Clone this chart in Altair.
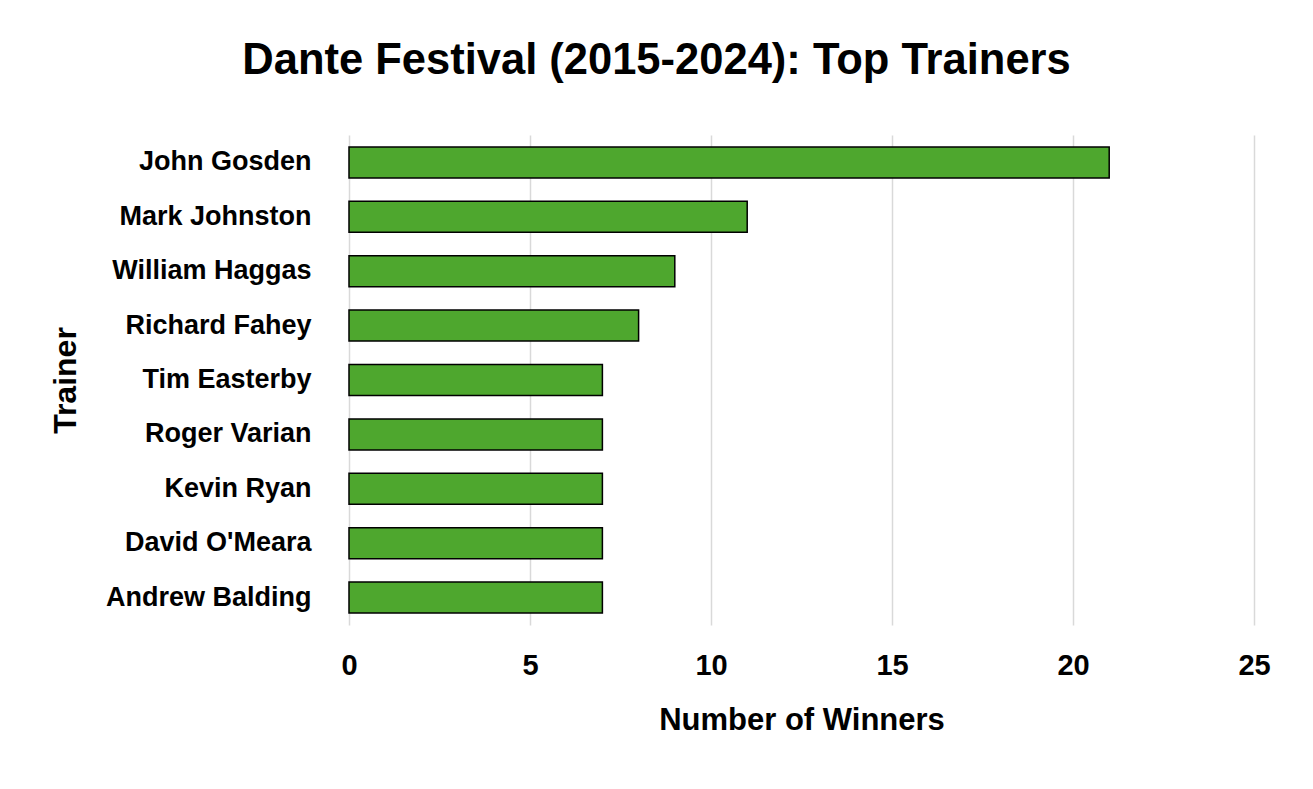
import altair as alt
import pandas as pd

trainers = ["John Gosden", "Mark Johnston", "William Haggas", "Richard Fahey",
            "Tim Easterby", "Roger Varian", "Kevin Ryan", "David O'Meara", "Andrew Balding"]
winners = [21, 11, 9, 8, 7, 7, 7, 7, 7]

df = pd.DataFrame({"Trainer": trainers, "Winners": winners})

FONT = "Liberation Sans"

chart = alt.Chart(df).mark_bar(
    color="#4EA72E", stroke="#000000", strokeWidth=1.5
).encode(
    x=alt.X("Winners:Q", title="Number of Winners",
            scale=alt.Scale(domain=[0, 25], nice=False),
            axis=alt.Axis(values=[0, 5, 10, 15, 20, 25], grid=True, gridColor="#d9d9d9",
                          gridWidth=1.5, domain=False, ticks=False, labelPadding=26,
                          labelFlush=False,
                          labelFontSize=29, labelFontWeight="bold", labelColor="#000000",
                          titleFontSize=31, titleFontWeight="bold", titleColor="#000000",
                          titlePadding=25, labelFont=FONT, titleFont=FONT)),
    y=alt.Y("Trainer:N", sort=trainers, title="Trainer",
            scale=alt.Scale(paddingInner=0.43, paddingOuter=0.22),
            axis=alt.Axis(domain=False, ticks=False, labelPadding=38, grid=False,
                          labelLimit=400,
                          labelFontSize=27, labelFontWeight="bold", labelColor="#000000",
                          titleFontSize=32, titleFontWeight="bold", titleColor="#000000",
                          titleX=-267, titleY=245, titleAlign="center", titleAngle=270,
                          titleBaseline="bottom",
                          labelFont=FONT, titleFont=FONT)),
).properties(
    width=905, height=490,
    title=alt.Title("Dante Festival (2015-2024): Top Trainers", fontSize=43.5, font=FONT,
                    fontWeight="bold", color="#000000", anchor="middle", dx=-145, offset=52),
    autosize=alt.AutoSizeParams(type="none"),
    padding={"left": 341, "top": 127, "right": 51, "bottom": 156},
).configure(background="#ffffff").configure_view(strokeWidth=0, stroke="transparent")

chart.save("out.html", embed_options={"renderer": "svg", "actions": False})
